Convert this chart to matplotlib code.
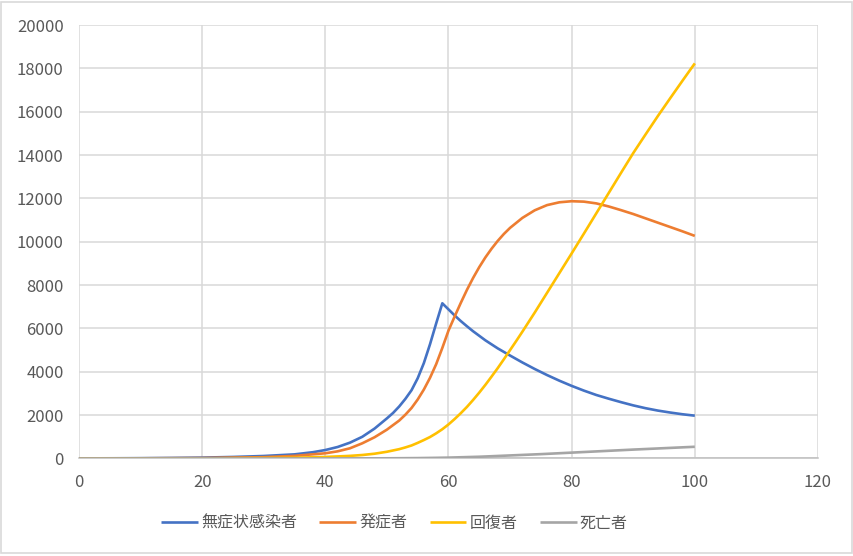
import numpy as np
import matplotlib.pyplot as plt
from matplotlib.patches import Rectangle

plt.rcParams['font.family'] = ['Noto Sans CJK JP', 'DejaVu Sans']

# series (day, count)
blue_x = [0, 5, 10, 15, 20, 25, 30, 35, 38, 40, 42, 44, 46, 48, 50, 51, 52, 53, 54, 55, 56, 57,
          58, 59, 60, 61, 62, 63, 64, 65, 66, 68, 70, 72, 74, 76, 78, 80, 82, 84, 86, 88, 90, 92,
          94, 96, 98, 100]
blue_y = [5, 8, 14, 25, 40, 70, 115, 190, 290, 390, 530, 730, 1000, 1380, 1850, 2100, 2400, 2750,
          3150, 3700, 4400, 5270, 6230, 7160, 6880, 6600, 6340, 6100, 5870, 5660, 5450, 5080, 4750,
          4430, 4130, 3850, 3590, 3350, 3130, 2930, 2760, 2600, 2450, 2320, 2210, 2120, 2040, 1975]

orange_x = [0, 10, 20, 30, 35, 40, 42, 44, 46, 48, 50, 52, 53, 54, 55, 56, 57, 58, 59, 60, 61,
            62, 63, 64, 65, 66, 67, 68, 69, 70, 72, 74, 76, 78, 80, 82, 84, 86, 88, 90, 92, 94,
            96, 98, 100]
orange_y = [3, 8, 20, 60, 120, 240, 330, 470, 700, 980, 1330, 1750, 2020, 2330, 2720, 3180,
            3720, 4350, 5100, 5900, 6550, 7180, 7780, 8330, 8830, 9280, 9680, 10040, 10360, 10640,
            11100, 11450, 11690, 11820, 11870, 11850, 11770, 11630, 11460, 11280, 11080, 10880,
            10680, 10480, 10270]

yellow_x = [0, 20, 30, 35, 40, 44, 46, 48, 50, 52, 53, 54, 55, 56, 57, 58, 59, 60, 61, 62, 63,
            64, 65, 66, 67, 68, 69, 70, 71, 72, 74, 76, 78, 80, 82, 84, 86, 88, 90, 92, 94, 96,
            98, 100]
yellow_y = [0, 5, 20, 35, 70, 120, 160, 220, 310, 430, 510, 600, 720, 850, 990, 1160, 1350,
            1570, 1820, 2090, 2380, 2700, 3040, 3400, 3780, 4170, 4580, 5000, 5420, 5850, 6730,
            7640, 8550, 9460, 10380, 11310, 12240, 13170, 14090, 14950, 15800, 16620, 17430, 18230]

gray_x = [0, 40, 50, 55, 58, 60, 65, 70, 75, 80, 85, 90, 95, 100]
gray_y = [0, 2, 8, 18, 30, 40, 80, 140, 200, 270, 340, 410, 475, 540]

labels = ['無症状感染者', '発症者', '回復者', '死亡者']
colors = ['#4472C4', '#ED7D31', '#FFC000', '#A5A5A5']

fig = plt.figure(figsize=(8.54, 5.56), dpi=100)
ax = fig.add_axes([0.0925, 0.1754, 0.8653, 0.7796])

series = [(blue_x, blue_y), (orange_x, orange_y), (yellow_x, yellow_y), (gray_x, gray_y)]
for (xs, ys), lab, c in zip(series, labels, colors):
    ax.plot(xs, ys, color=c, lw=1.9, label=lab, solid_capstyle='butt',
            solid_joinstyle='round', zorder=3)

ax.set_xlim(0, 120)
ax.set_ylim(0, 20000)
ax.set_xticks(range(0, 121, 20))
ax.set_yticks(range(0, 20001, 2000))
ax.grid(True, color='#d9d9d9', lw=1.1, zorder=0)
for s in ['top', 'right', 'left']:
    ax.spines[s].set_visible(False)
ax.spines['bottom'].set_color('#bfbfbf')
ax.spines['bottom'].set_linewidth(1.1)
ax.tick_params(length=0, labelsize=12, labelcolor='#595959')
ax.tick_params(axis='y', pad=11)
ax.tick_params(axis='x', pad=11)

# legend sits a little left of centre, as in the source
fig.legend(loc='center', bbox_to_anchor=(0.462, 0.059), ncol=4, frameon=False,
           fontsize=11.5, labelcolor='#595959', handlelength=2.3, handletextpad=0.2,
           columnspacing=1.4)

fig.patches.append(Rectangle((0.001, 0.005), 0.997, 0.992, transform=fig.transFigure,
                             fill=False, edgecolor='#d9d9d9', lw=1.2))

fig.savefig('out.png', dpi=100)
